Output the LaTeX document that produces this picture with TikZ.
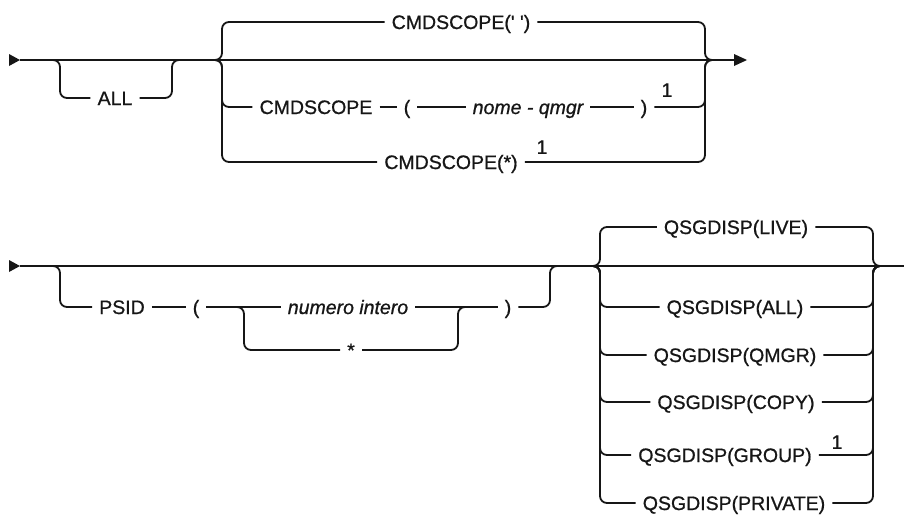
\documentclass[tikz,border=0pt]{standalone}
\usepackage{fontspec}
\setmainfont{Liberation Sans}
\newfontfamily\railfont{Liberation Sans}[FakeBold=0.8]
\usepackage{xcolor}
\definecolor{cRail}{HTML}{161616}
\usetikzlibrary{positioning,calc}
\tikzset{
  rail/.style={line width=1.8pt,draw=cRail,rounded corners=7pt},
  rail-tip/.style={fill=cRail},
  kw/.style={font=\railfont\fontsize{19.5}{22}\selectfont,text=cRail,
    inner xsep=7pt,inner ysep=0pt,text height=14pt,text depth=0pt},
  var/.style={kw,font=\railfont\fontsize{19.5}{22}\selectfont\itshape},
  fnote/.style={font=\railfont\fontsize{19.5}{22}\selectfont,text=cRail,
    inner sep=0pt,anchor=south},
}

\begin{document}
\begin{tikzpicture}[x=1pt,y=-1pt]
  \useasboundingbox (0,0) rectangle (904,517);
  % first line: ALL + CMDSCOPE
  \coordinate (s1) at (20,60);
  \coordinate (e1) at (734,60);
  \coordinate (allL) at (45,60);
  \coordinate (allR) at (185,60);
  \coordinate (cmdL) at (210,60);
  \coordinate (cmdR) at (715,60);
  \fill[rail-tip] (9,54) -- (s1) -- (9,66) -- cycle;
  \fill[rail-tip] (e1) ++(0,-6) -- (747,60) -- (734,66) -- cycle;
  \draw[rail] (s1) -- (e1);

  \node[kw] (all) at (115,98) {ALL};
  \draw[rail] (allL) -- ([xshift=15pt]allL) |- (all);
  \draw[rail] (all) -| ([xshift=-13pt]allR) -- (allR);

  \node[kw]  (cmdq)  at (461,22)  {CMDSCOPE(' ')};
  \node[kw]  (cmdn)  at (316,107) {CMDSCOPE};
  \node[kw]  (lpn)   at (407,107) {(};
  \node[var] (nome)  at (528,107) {nome - qmgr};
  \node[kw]  (rpn)   at (644,107) {)};
  \node[fnote] (fn1) at (667,97)  {1};
  \node[kw]  (cmds)  at (451,162) {CMDSCOPE(*)};
  \node[fnote] (fn2) at (542,154) {1};

  \draw[rail] (cmdL) -- ([xshift=12pt]cmdL) |- (cmdq);
  \draw[rail] (cmdL) -- ([xshift=12pt]cmdL) |- (cmdn);
  \draw[rail] (cmdL) -- ([xshift=12pt]cmdL) |- (cmds);
  \draw[rail] (cmdq) -| ([xshift=-10pt]cmdR) -- (cmdR);
  \draw[rail] (cmdn) -- (lpn);
  \draw[rail] (lpn) -- (nome);
  \draw[rail] (nome) -- (rpn);
  \draw[rail] (rpn) -| ([xshift=-10pt]cmdR) -- (cmdR);
  \draw[rail] (cmds) -| ([xshift=-10pt]cmdR) -- (cmdR);

  % second line: PSID + QSGDISP
  \coordinate (s2) at (20,266);
  \coordinate (e2) at (904,266);
  \coordinate (psL) at (45,266);
  \coordinate (psR) at (558,266);
  \coordinate (inL) at (232,307);
  \coordinate (inR) at (466,307);
  \coordinate (qsL) at (588,266);
  \coordinate (qsR) at (885,266);
  \fill[rail-tip] (9,260) -- (s2) -- (9,272) -- cycle;
  \draw[rail] (s2) -- (e2);

  \node[kw]  (psid) at (122,307) {PSID};
  \node[kw]  (lps)  at (196,307) {(};
  \node[var] (numi) at (348,307) {numero intero};
  \node[kw]  (star) at (351,350) {*};
  \node[kw]  (rps)  at (508,307) {)};
  \draw[rail] (psL) -- ([xshift=15pt]psL) |- (psid);
  \draw[rail] (psid) -- (lps);
  \draw[rail] (lps) -- (numi);
  \draw[rail] (inL) -- ([xshift=12pt]inL) |- (star);
  \draw[rail] (star) -| ([xshift=-8pt]inR) -- (inR);
  \draw[rail] (numi) -- (rps);
  \draw[rail] (rps) -| ([xshift=-8pt]psR) -- (psR);

  \node[kw] (qlive) at (736,227) {QSGDISP(LIVE)};
  \node[kw] (qall)  at (735,307) {QSGDISP(ALL)};
  \node[kw] (qqmgr) at (735,355) {QSGDISP(QMGR)};
  \node[kw] (qcopy) at (736,402) {QSGDISP(COPY)};
  \node[kw] (qgrp)  at (725,455) {QSGDISP(GROUP)};
  \node[fnote] (fn3) at (837,449) {1};
  \node[kw] (qpriv) at (734,503) {QSGDISP(PRIVATE)};
  \foreach \q in {qlive,qall,qqmgr,qcopy,qgrp,qpriv}{
    \draw[rail] (qsL) -- ([xshift=12pt]qsL) |- (\q);
    \draw[rail] (\q) -| ([xshift=-12pt]qsR) -- (qsR);
  }
\end{tikzpicture}
\end{document}
